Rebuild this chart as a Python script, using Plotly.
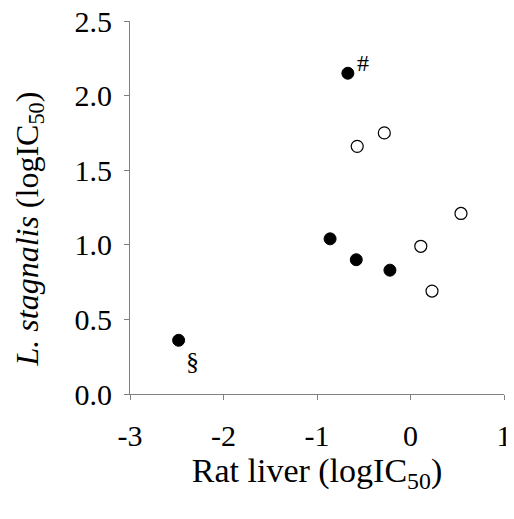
import plotly.graph_objects as go

filled_x = [-0.67, -0.86, -0.58, -0.22, -2.48]
filled_y = [2.15, 1.04, 0.90, 0.83, 0.36]
open_x = [-0.57, -0.28, 0.54, 0.11, 0.23]
open_y = [1.66, 1.75, 1.21, 0.99, 0.69]

x_ticks = [-3, -2, -1, 0, 1]
y_ticks = [0.0, 0.5, 1.0, 1.5, 2.0, 2.5]
y_tick_text = ["0.0", "0.5", "1.0", "1.5", "2.0", "2.5"]

FONT = "Liberation Serif, Times New Roman, serif"

fig = go.Figure()
fig.add_trace(go.Scatter(x=filled_x, y=filled_y, mode="markers",
                         marker=dict(size=12, color="black", line=dict(color="black", width=1)),
                         showlegend=False))
fig.add_trace(go.Scatter(x=open_x, y=open_y, mode="markers",
                         marker=dict(size=12, color="white", line=dict(color="black", width=1.2)),
                         showlegend=False))

fig.add_annotation(x=-0.51, y=2.22, text="#", showarrow=False,
                   font=dict(family=FONT, size=24, color="black"))
fig.add_annotation(x=-2.33, y=0.22, text="§", showarrow=False,
                   font=dict(family=FONT, size=26, color="black"))

# y-axis title as rotated annotation for precise placement
fig.add_annotation(xref="paper", yref="paper", x=0, y=0.5, xanchor="center", yanchor="middle",
                   xshift=-101, yshift=-22, textangle=-90, showarrow=False,
                   text="<i>L. stagnalis</i> (logIC<sub>50</sub>)",
                   font=dict(family=FONT, size=32, color="black"))

# page adds an 8px body margin; margins compensate so the plot sits where the reference has it
fig.update_layout(
    width=514, height=519,
    margin=dict(l=122, r=18, t=13, b=133, autoexpand=False),
    plot_bgcolor="white", paper_bgcolor="white",
    font=dict(family=FONT, color="black"),
)
fig.update_xaxes(range=[-3, 1], tickvals=x_ticks, ticktext=[str(v) for v in x_ticks],
                 showgrid=False, zeroline=False, showline=True, linecolor="#808080", linewidth=1,
                 ticks="outside", ticklen=5, tickcolor="#808080", ticklabelstandoff=10,
                 automargin=False, ticklabeloverflow="allow",
                 tickfont=dict(family=FONT, size=30, color="black"),
                 title=dict(text="Rat liver (logIC<sub>50</sub>)", font=dict(family=FONT, size=34, color="black"), standoff=5))
fig.update_yaxes(range=[0, 2.5], tickvals=y_ticks, ticktext=y_tick_text,
                 showgrid=False, zeroline=False, showline=True, linecolor="#808080", linewidth=1,
                 ticks="outside", ticklen=5, tickcolor="#808080", ticklabelstandoff=6,
                 automargin=False, ticklabeloverflow="allow",
                 tickfont=dict(family=FONT, size=30, color="black"))

fig.write_html("out.html")
